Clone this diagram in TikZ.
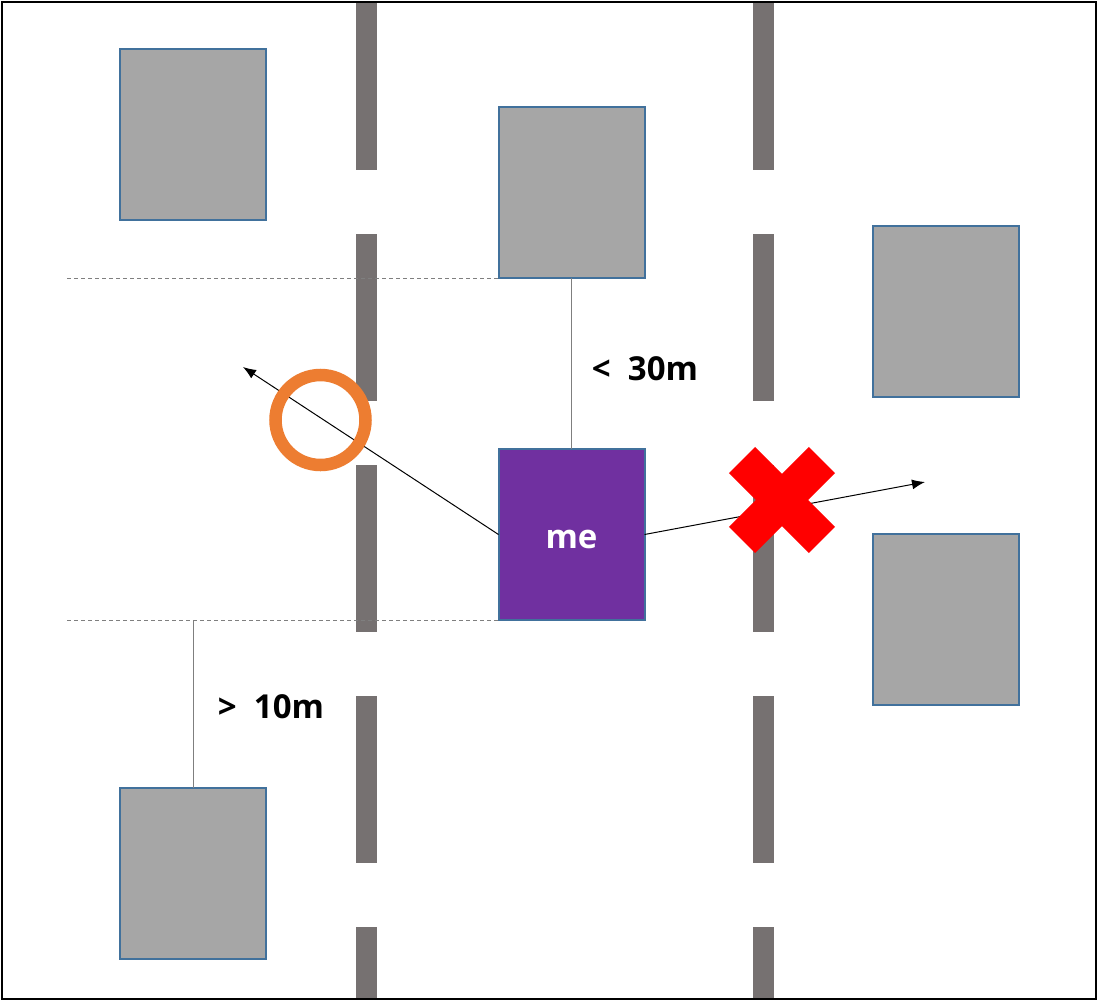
\documentclass[tikz,border=0pt]{standalone}
\usepackage{fontspec}
\setmainfont{Open Sans}
\usetikzlibrary{arrows.meta}
\definecolor{bfill}{HTML}{A6A6A6}
\definecolor{bedge}{HTML}{41719C}
\definecolor{lane}{HTML}{767171}
\definecolor{mepurple}{HTML}{7030A0}
\definecolor{orng}{HTML}{ED7D31}
\definecolor{guide}{HTML}{7F7F7F}
\tikzset{
  bldg/.style={draw=bedge, fill=bfill, line width=2pt, minimum width=146pt, minimum height=171pt, inner sep=0pt, outer sep=0pt},
  lanedash/.style={fill=lane, draw=none},
  guideline/.style={draw=guide, line width=0.9pt},
  dashguide/.style={draw=guide, line width=0.9pt, dash pattern=on 4pt off 3pt},
  dir/.style={draw=black, line width=1pt, -{Latex[length=13pt,width=10pt]}},
  lbl/.style={font=\fontsize{33}{38}\selectfont\bfseries, inner sep=0pt}
}
\begin{document}
\begin{tikzpicture}[x=1pt,y=-1pt]
\useasboundingbox (0,0) rectangle (1100,1004);
\fill[white] (0,0) rectangle (1100,1004);
% lane dashes
\foreach \ya/\yb in {2/170, 234/401, 465/632, 696/863, 927/999}{
  \fill[lanedash] (356,\ya) rectangle (377,\yb);
  \fill[lanedash] (753,\ya) rectangle (774,\yb);
}
% buildings
\node[bldg] (b1) at (193,134.5) {};
\node[bldg] (b2) at (571.5,192.5) {};
\node[bldg] (b3) at (945.5,311.5) {};
\node[bldg] (b5) at (945.5,619.5) {};
\node[bldg] (b6) at (193,873) {};
\node[bldg, fill=mepurple, text=white, font=\fontsize{33}{38}\selectfont\bfseries] (me) at (571.5,534.5) {\raisebox{-5pt}[\height][\depth]{me}};
% guides
\coordinate (g1) at (67,278);
\coordinate (g2) at (67,620);
\draw[dashguide] (g1) -- (b2.south west);
\draw[dashguide] (g2) -- (me.south west);
\draw[guideline] (b2.south) -- (me.north);
\coordinate (g3) at (193,620);
\draw[guideline] (g3) -- (b6.north);
\node[lbl] (l30) at (645,369) {<\ \ 30m};
\node[lbl] (l10) at (271,707) {>\ \ 10m};
% direction arrows
\coordinate (t1) at (243,367);
\coordinate (t2) at (925,482);
\draw[dir] (me.west) -- (t1);
\draw[dir] (me.east) -- (t2);
% orange circle
\node[draw=orng, line width=12.5pt, circle, minimum size=90pt, inner sep=0pt] (ok) at (320.5,420) {};
% red cross
\fill[red, shift={(782,500)}, rotate=45] (-56.5,-18.5) rectangle (56.5,18.5);
\fill[red, shift={(782,500)}, rotate=-45] (-56.5,-18.5) rectangle (56.5,18.5);
% frame
\draw[black, line width=2.5pt] (2,2) rectangle (1096,999);
\end{tikzpicture}
\end{document}
